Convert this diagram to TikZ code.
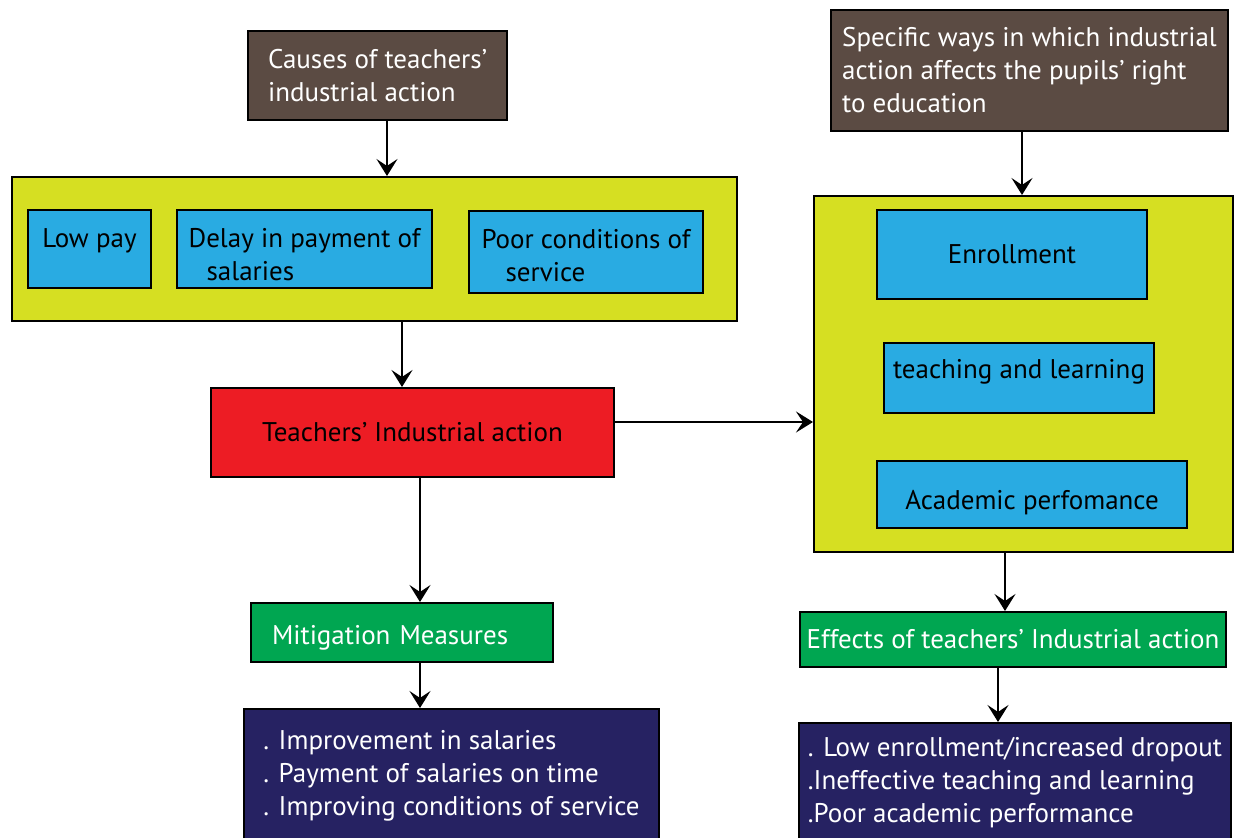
\documentclass[tikz,border=0pt]{standalone}
\usepackage{fontspec}
\setmainfont{PT Sans}
\usetikzlibrary{arrows.meta}
\usepackage{xcolor}
\definecolor{headbrown}{HTML}{5B4B43}
\definecolor{groupyellow}{HTML}{D6DF22}
\definecolor{itemblue}{HTML}{29ABE2}
\definecolor{actionred}{HTML}{ED1C24}
\definecolor{stepgreen}{HTML}{00A651}
\definecolor{listnavy}{HTML}{262262}

\begin{document}
\begin{tikzpicture}[x=0.5pt, y=-0.5pt,
          bx/.style={draw, line width=1pt, inner sep=0pt, align=left,
                     font=\fontsize{13.5}{16.5}\selectfont},
          head/.style={bx, fill=headbrown, text=white},
          grp/.style={bx, fill=groupyellow},
          item/.style={bx, fill=itemblue},
          arr/.style={-{Stealth[length=8.5pt, width=10.5pt, inset=3.5pt]}, line width=1pt}]
        \useasboundingbox (0,0) rectangle (1235,838);
        % left column
        \node[head, minimum width=129.5pt, minimum height=44.5pt]
          (causes) at (377.5,75.5) {Causes of teachers'\\industrial action};
        \node[grp, minimum width=362.5pt, minimum height=72pt] (groupL) at (374.5,249) {};
        \node[item, minimum width=61.5pt, minimum height=39pt]
          (lowpay) at (89.5,249) {\rule{0pt}{15pt}Low pay\\\mbox{}};
        \node[item, minimum width=127.5pt, minimum height=39pt]
          (delay) at (304.5,249) {\rule{0pt}{15pt}Delay in payment of\\\hspace*{9pt}salaries};
        \node[item, minimum width=117pt, minimum height=41pt]
          (poor) at (586,252) {\rule{0pt}{13pt}Poor conditions of\\\hspace*{12pt}service};
        \node[bx, fill=actionred, minimum width=201.5pt, minimum height=44.5pt]
          (action) at (412.5,432.5) {Teachers' Industrial action};
        \node[bx, fill=stepgreen, text=white, inner xsep=10.5pt, text width=130pt,
              minimum height=29.5pt, text height=14.5pt]
          (mitig) at (402,632.5) {Mitigation Measures};
        \node[bx, fill=listnavy, text=white, minimum width=207.5pt, minimum height=66.5pt]
          (mitlist) at (451.5,775.5) {. Improvement in salaries\\. Payment of salaries on time\\. Improving conditions of service};
        % right column
        \node[head, minimum width=198.5pt, minimum height=60.5pt]
          (ways) at (1029.5,70.5) {Specific ways in which industrial\\action affects the pupils' right\\to education};
        \node[grp, minimum width=209.5pt, minimum height=178pt] (groupR) at (1023.5,374) {};
        \node[item, minimum width=135pt, minimum height=44.5pt] (enrol) at (1012,254.5) {Enrollment};
        \node[item, minimum width=135pt, minimum height=35pt, text depth=9pt]
          (teach) at (1019,378) {teaching and learning};
        \node[item, minimum width=155pt, minimum height=33.5pt, text height=17.5pt]
          (acad) at (1032,494.5) {Academic perfomance};
        \node[bx, fill=stepgreen, text=white, minimum width=213pt, minimum height=27.5pt]
          (effects) at (1013,639.5) {Effects of teachers' Industrial action};
        \node[bx, fill=listnavy, text=white, minimum width=216pt, minimum height=59.5pt]
          (efflist) at (1015,782.5) {. Low enrollment/increased dropout\\.Ineffective teaching and learning\\.Poor academic performance};
        % connectors
        \draw[arr] ([xshift=4.75pt]causes.south) -- ([xshift=4.75pt]causes.south |- groupL.north);
        \draw[arr] ([xshift=13.75pt]groupL.south) -- ([xshift=13.75pt]groupL.south |- action.north);
        \draw[arr] ([xshift=3.75pt]action.south) -- ([xshift=3.75pt]action.south |- mitig.north);
        \draw[arr] ([xshift=9pt]mitig.south) -- ([xshift=9pt]mitig.south |- mitlist.north);
        \draw[arr] ([yshift=5.25pt]action.east) -- ([yshift=5.25pt]action.east -| groupR.west);
        \draw[arr] ([xshift=-3.75pt]ways.south) -- ([xshift=-3.75pt]ways.south |- groupR.north);
        \draw[arr] ([xshift=-9.25pt]groupR.south) -- ([xshift=-9.25pt]groupR.south |- effects.north);
        \draw[arr] ([xshift=-7.5pt]effects.south) -- ([xshift=-7.5pt]effects.south |- efflist.north);
      \end{tikzpicture}
\end{document}
